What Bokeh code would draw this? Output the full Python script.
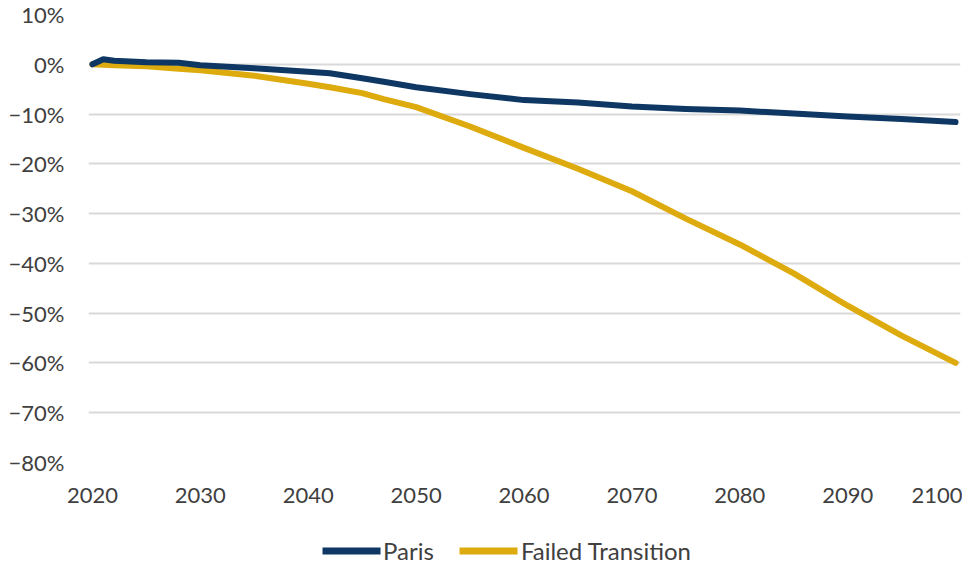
from bokeh.plotting import figure
from bokeh.layouts import column, row
from bokeh.models import FixedTicker, CustomJSTickFormatter, Legend, LegendItem, Range1d, Spacer
from bokeh.embed import file_html
from bokeh.resources import INLINE

years = [2020, 2021, 2022, 2025, 2028, 2030, 2035, 2040, 2042, 2045, 2047, 2050, 2055, 2060,
         2065, 2070, 2075, 2080, 2085, 2090, 2095, 2100]
paris = [0.0, 1.0, 0.7, 0.4, 0.3, -0.2, -0.8, -1.5, -1.8, -2.8, -3.5, -4.6, -6.0, -7.2,
         -7.7, -8.5, -9.0, -9.3, -9.9, -10.5, -11.0, -11.6]
failed = [0.0, -0.1, -0.2, -0.4, -0.9, -1.2, -2.3, -3.9, -4.6, -5.8, -7.0, -8.6, -12.5, -16.8,
          -21.0, -25.5, -31.0, -36.2, -42.0, -48.5, -54.5, -60.0]
series_names = ["Paris", "Failed Transition"]
x_ticks = [2020, 2030, 2040, 2050, 2060, 2070, 2080, 2090, 2100]
y_ticks = [-80, -70, -60, -50, -40, -30, -20, -10, 0, 10]

NAVY = "#0F3763"
GOLD = "#DEAB0E"
TXT = "#404040"
FONT = "Lato"

p = figure(width=962, height=520, output_backend="svg", toolbar_location=None,
           x_range=Range1d(2019.63, 2100.46), y_range=Range1d(-80, 10),
           min_border_left=88, min_border_right=2, min_border_top=14, min_border_bottom=58)
p.outline_line_color = None
p.background_fill_color = "white"
p.border_fill_color = "white"

p.line(years, failed, line_color=GOLD, line_width=6, line_cap="round", line_join="round")
p.line(years, paris, line_color=NAVY, line_width=6, line_cap="round", line_join="round")

p.xgrid.grid_line_color = None
p.ygrid.grid_line_color = "#D9D9D9"
p.ygrid.grid_line_width = 2
p.ygrid.ticker = FixedTicker(ticks=y_ticks)

p.xaxis.ticker = FixedTicker(ticks=x_ticks)
p.yaxis.ticker = FixedTicker(ticks=y_ticks)
p.yaxis.formatter = CustomJSTickFormatter(code="return (tick < 0 ? '\u2212' + Math.abs(tick) : tick) + '%';")

for ax in (p.xaxis[0], p.yaxis[0]):
    ax.axis_line_color = None
    ax.major_tick_line_color = None
    ax.minor_tick_line_color = None
    ax.major_label_text_font = FONT
    ax.major_label_text_font_size = "22px"
    ax.major_label_text_color = TXT
p.xaxis.major_label_standoff = 19
p.yaxis.major_label_standoff = 18

# legend strip below the chart (its lines lie outside its visible ranges)
lg = figure(width=929, height=47, output_backend="svg", toolbar_location=None,
            x_range=Range1d(0, 1), y_range=Range1d(0, 1),
            x_axis_location=None, y_axis_location=None,
            min_border_left=84, min_border_right=0, min_border_top=13, min_border_bottom=0)
lg.grid.visible = False
lg.outline_line_color = None
lr1 = lg.line(years, paris, line_color=NAVY, line_width=7, line_cap="round")
lr2 = lg.line(years, failed, line_color=GOLD, line_width=7, line_cap="round")
legend = Legend(items=[LegendItem(label=series_names[0], renderers=[lr1]),
                       LegendItem(label=series_names[1], renderers=[lr2])],
                location="center", orientation="horizontal",
                label_text_font=FONT, label_text_font_size="24px", label_text_color=TXT,
                glyph_width=58, glyph_height=24, label_height=24, label_standoff=3,
                spacing=26, padding=0, margin=0,
                border_line_color=None, background_fill_alpha=0)
lg.add_layout(legend, "center")

layout = column(p, row(lg, Spacer(width=33, height=47), spacing=0), spacing=0)
open("out.html", "w").write(file_html(layout, INLINE))
